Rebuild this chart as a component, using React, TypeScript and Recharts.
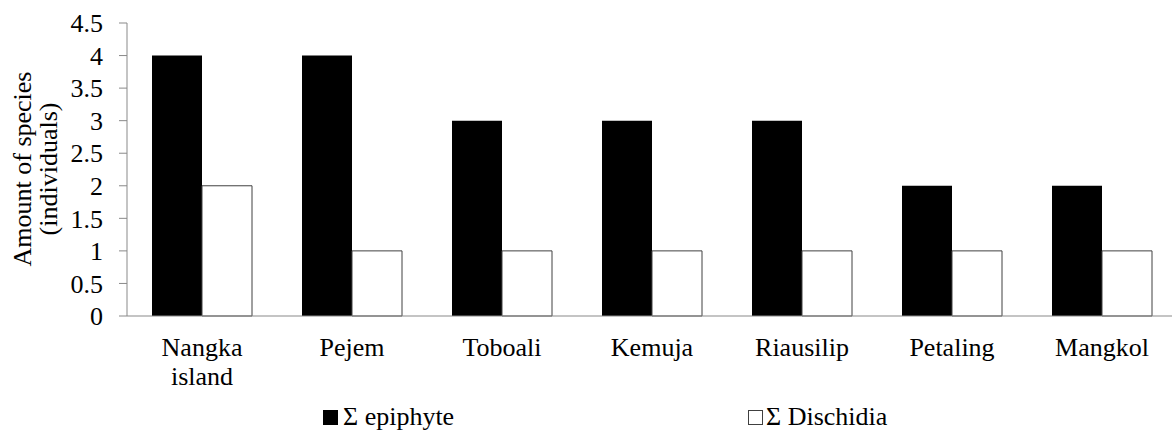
import React from 'react';
import { BarChart, Bar, XAxis, YAxis, Legend, Customized } from 'recharts';

const categories = ['Nangka island', 'Pejem', 'Toboali', 'Kemuja', 'Riausilip', 'Petaling', 'Mangkol'];
const epiphyte = [4, 4, 3, 3, 3, 2, 2];
const dischidia = [2, 1, 1, 1, 1, 1, 1];
const yTicks = [0, 0.5, 1, 1.5, 2, 2.5, 3, 3.5, 4, 4.5];
const seriesNames = ['\u03A3 epiphyte', '\u03A3 Dischidia'];

const data = categories.map((c, i) => ({ name: c, epiphyte: epiphyte[i], dischidia: dischidia[i] }));

const FONT = '"Liberation Serif", "Times New Roman", serif';
const FS = 26;
const AXIS = '#898989';

const XTick = (props: any) => {
  const { x, y, payload } = props;
  const lines = payload.value === 'Nangka island' ? String(payload.value).split(' ') : [payload.value];
  return (
    <text x={x} y={y} textAnchor="middle" fontFamily={FONT} fontSize={FS} fill="#000">
      {lines.map((l: string, i: number) => (
        <tspan key={i} x={x} dy={i === 0 ? 32 : 29}>{l}</tspan>
      ))}
    </text>
  );
};

const YLabel = () => (
  <text transform="rotate(-90)" textAnchor="middle" fontFamily={FONT} fontSize={FS} fill="#000">
    <tspan x={-169} y={31}>Amount of species</tspan>
    <tspan x={-169} y={57}>(individuals)</tspan>
  </text>
);

const LegendContent = () => (
  <div style={{ position: 'relative', width: 1172, height: 26, fontFamily: FONT, fontSize: FS, color: '#000', lineHeight: '26px' }}>
    <div style={{ position: 'absolute', left: 323, top: 0, height: 26, display: 'flex', alignItems: 'center', whiteSpace: 'nowrap' }}>
      <svg width={15} height={15} style={{ marginRight: 5 }}><rect x={0.5} y={0.5} width={14} height={14} fill="#000" stroke="#000" /></svg>
      <span>{seriesNames[0]}</span>
    </div>
    <div style={{ position: 'absolute', left: 748, top: 0, height: 26, display: 'flex', alignItems: 'center', whiteSpace: 'nowrap' }}>
      <svg width={15} height={15} style={{ marginRight: 3 }}><rect x={0.5} y={0.5} width={14} height={14} fill="#fff" stroke="#404040" /></svg>
      <span>{seriesNames[1]}</span>
    </div>
  </div>
);

export default function App() {
  return (
    <div style={{ position: 'absolute', left: 0, top: 0, width: 1172, height: 431, overflow: 'hidden', background: '#fff' }}>
      <BarChart
        width={1178}
        height={431}
        data={data}
        margin={{ top: 23, right: 1, bottom: 55, left: 0 }}
        barCategoryGap={25}
        barGap={0}
      >
        <XAxis
          dataKey="name"
          height={60}
          tickLine={false}
          axisLine={{ stroke: AXIS }}
          tick={<XTick />}
          interval={0}
        />
        <YAxis
          width={127}
          domain={[0, 4.5]}
          ticks={yTicks}
          tickSize={8}
          tickMargin={16}
          tickLine={{ stroke: AXIS }}
          axisLine={{ stroke: AXIS }}
          tick={{ fontFamily: FONT, fontSize: FS, fill: '#000' }}
          interval={0}
        />
        <Bar dataKey="epiphyte" name={seriesNames[0]} fill="#000" isAnimationActive={false} />
        <Bar dataKey="dischidia" name={seriesNames[1]} fill="#fff" stroke="#404040" strokeWidth={1} isAnimationActive={false} />
        <Legend
          layout="horizontal"
          verticalAlign="middle"
          align="center"
          wrapperStyle={{ top: 404, left: 0, width: 1172 }}
          content={<LegendContent />}
        />
        <Customized component={YLabel} />
      </BarChart>
    </div>
  );
}
